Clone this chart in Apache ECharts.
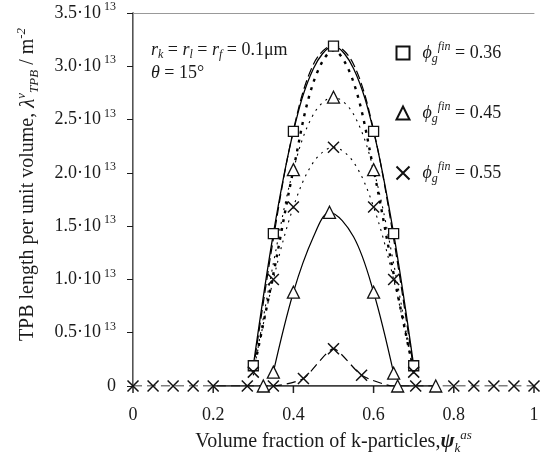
<!DOCTYPE html>
<html>
<head>
    <meta charset="utf-8">
    <title>TPB length</title>
    <script type="text/javascript" src="https://cdn.jsdelivr.net/npm/echarts@6/dist/echarts.min.js"></script>
</head>
<body style="margin:0">
    <div id="main" style="width: 544px;height:460px;"></div>
    <script type="text/javascript">
    var myChart = echarts.init(document.getElementById('main'));

    // values in units of 1e13 m^-2
    var xTicks = [0, 0.2, 0.4, 0.6, 0.8, 1];
    var xTickY = [0, 0, 0, 0, 0, 0];

    // markers
    var sqX = [0.3, 0.35, 0.4, 0.5, 0.6, 0.65, 0.7];
    var sqY = [0.19, 1.43, 2.39, 3.19, 2.39, 1.43, 0.19];
    var triX = [0.4, 0.5, 0.6, 0.35, 0.4, 0.49, 0.6, 0.65, 0.325, 0.66, 0.755];
    var triY = [2.03, 2.71, 2.03, 0.13, 0.88, 1.63, 0.88, 0.12, 0, 0, 0];
    var crX = [0.3, 0.35, 0.4, 0.5, 0.6, 0.65, 0.7,
               0, 0.05, 0.1, 0.15, 0.2, 0.285, 0.35, 0.425, 0.5, 0.57, 0.705, 0.8, 0.85, 0.9, 0.95, 1];
    var crY = [0.13, 1.0, 1.68, 2.24, 1.68, 1.0, 0.13,
               0, 0, 0, 0, 0, 0, 0, 0.07, 0.35, 0.1, 0, 0, 0, 0, 0, 0];

    // curves
    var outerX = [0.3, 0.35, 0.4, 0.45, 0.5, 0.55, 0.6, 0.65, 0.7];
    var solidOuterY = [0.19, 1.43, 2.39, 2.98, 3.19, 2.98, 2.39, 1.43, 0.19];
    var dashOuterY = [0.15, 1.38, 2.40, 3.02, 3.20, 3.02, 2.40, 1.38, 0.15];
    var heavyDotY = [0.13, 1.05, 2.03, 2.85, 3.15, 2.85, 2.03, 1.05, 0.13];
    var dotTriY = [0.10, 1.15, 2.03, 2.55, 2.71, 2.55, 2.03, 1.15, 0.10];
    var dotCrX = [0.3, 0.35, 0.4, 0.45, 0.5, 0.55, 0.6, 0.65, 0.7];
    var dotCrY = [0.13, 1.0, 1.68, 2.1, 2.24, 2.1, 1.68, 1.0, 0.13];
    var innerTriX = [0.35, 0.4, 0.45, 0.49, 0.55, 0.6, 0.65];
    var innerTriY = [0.13, 0.88, 1.40, 1.63, 1.40, 0.88, 0.12];
    var innerCrX = [0, 0.05, 0.1, 0.15, 0.2, 0.285, 0.35, 0.425, 0.5, 0.57, 0.65, 0.705, 0.8, 0.85, 0.9, 0.95, 1];
    var innerCrY = [0, 0, 0, 0, 0, 0, 0, 0.07, 0.35, 0.1, 0, 0, 0, 0, 0, 0, 0];
    var baseX = [0.2, 0.76];
    var baseY = [0, 0];

    var names = ['0.36', '0.45', '0.55'];

    function pairs(xs, ys) {
        return xs.map(function (x, i) { return [x, ys[i]]; });
    }

    var serif = '"Liberation Serif", "DejaVu Serif", serif';
    var ink = '#1a1a1a';
    var crossPath = 'path://M0,0L10,10M10,0L0,10';

    function curve(xs, ys, width, type) {
        return {
            type: 'line',
            data: pairs(xs, ys),
            showSymbol: false,
            smooth: 0.35,
            silent: true,
            animation: false,
            z: 2,
            lineStyle: { color: '#000', width: width, type: type }
        };
    }

    function legendName(v) {
        return '{f|ϕ}{sb|g}{sp|fin}{t| = ' + v + '}';
    }

    option = {
        backgroundColor: '#fff',
        animation: false,
        grid: { left: 133, right: 10, top: 13, bottom: 73 },
        legend: {
            data: names.map(legendName),
            orient: 'vertical',
            left: 389,
            top: 36,
            itemWidth: 13,
            itemHeight: 13,
            itemGap: 36,
            selectedMode: false,
            textStyle: {
                fontFamily: serif,
                color: ink,
                padding: [0, 0, 0, 8],
                rich: {
                    f: { fontSize: 18, fontStyle: 'italic', fontFamily: serif, color: ink },
                    sb: { fontSize: 12, fontStyle: 'italic', fontFamily: serif, verticalAlign: 'bottom', lineHeight: 12, color: ink },
                    sp: { fontSize: 12, fontStyle: 'italic', fontFamily: serif, verticalAlign: 'top', lineHeight: 12, color: ink },
                    t: { fontSize: 18, fontFamily: serif, color: ink, lineHeight: 24 }
                }
            }
        },
        graphic: [
            {
                type: 'text', left: 151, top: 41,
                style: {
                    text: '{i|r}{s|k}{t| = }{i|r}{s|l}{t| = }{i|r}{s|f}{t| = 0.1μm}',
                    rich: {
                        i: { fontSize: 18, fontStyle: 'italic', fontFamily: serif, fill: ink },
                        s: { fontSize: 12, fontStyle: 'italic', fontFamily: serif, verticalAlign: 'bottom', lineHeight: 10, fill: ink },
                        t: { fontSize: 18, fontFamily: serif, fill: ink, lineHeight: 22 }
                    }
                }
            },
            {
                type: 'text', left: 151, top: 64,
                style: {
                    text: '{i|θ}{t| = 15°}',
                    rich: {
                        i: { fontSize: 18, fontStyle: 'italic', fontFamily: serif, fill: ink },
                        t: { fontSize: 18, fontFamily: serif, fill: ink }
                    }
                }
            }
        ],
        xAxis: [
            {
                type: 'value',
                min: 0, max: 1, interval: 0.2,
                name: '{t|Volume fraction of k-particles,}{i|ψ}{sb|k}{sp|as}',
                nameLocation: 'middle',
                nameGap: 43,
                nameTextStyle: {
                    rich: {
                        t: { fontSize: 20, fontFamily: serif, color: ink, lineHeight: 26 },
                        i: { fontSize: 21, fontStyle: 'italic', fontWeight: 'bold', fontFamily: serif, color: ink },
                        sb: { fontSize: 13, fontStyle: 'italic', fontFamily: serif, verticalAlign: 'bottom', lineHeight: 12, color: ink },
                        sp: { fontSize: 13, fontStyle: 'italic', fontFamily: serif, verticalAlign: 'top', lineHeight: 12, color: ink }
                    }
                },
                axisLine: { show: false },
                axisTick: { show: false },
                splitLine: { show: false },
                axisLabel: {
                    margin: 20,
                    fontSize: 18,
                    fontFamily: serif,
                    color: ink,
                    formatter: function (v) { return xTicks.indexOf(v) >= 0 ? String(v) : ''; }
                }
            },
            {
                type: 'value', position: 'top', min: 0, max: 1,
                axisLine: { show: true, onZero: false, lineStyle: { color: '#999', width: 1 } },
                axisTick: { show: false }, axisLabel: { show: false }, splitLine: { show: false }
            }
        ],
        yAxis: [
            {
                type: 'value',
                min: 0, max: 3.5, interval: 0.5,
                name: '{t|TPB length per unit volume, }{i|λ}{sp|v}{sb|TPB}{t| / m}{sp|-2}',
                nameLocation: 'middle',
                nameRotate: 90,
                nameGap: 92,
                nameTextStyle: {
                    padding: [0, 0, 0, 30],
                    rich: {
                        t: { fontSize: 20, fontFamily: serif, color: ink, lineHeight: 26 },
                        i: { fontSize: 21, fontStyle: 'italic', fontFamily: serif, color: ink },
                        sb: { fontSize: 13, fontStyle: 'italic', fontFamily: serif, verticalAlign: 'bottom', lineHeight: 12, color: ink },
                        sp: { fontSize: 13, fontStyle: 'italic', fontFamily: serif, verticalAlign: 'top', lineHeight: 12, color: ink }
                    }
                },
                axisLine: { show: true, lineStyle: { color: ink, width: 1.5 } },
                axisTick: { show: true, length: 6, lineStyle: { color: ink } },
                splitLine: { show: false },
                axisLabel: {
                    margin: 17,
                    formatter: function (v) {
                        if (v === 0) return '{m|0}';
                        return '{m|' + v.toFixed(1) + '·10}{s| 13}';
                    },
                    rich: {
                        m: { fontSize: 18, fontFamily: serif, color: ink, lineHeight: 24 },
                        s: { fontSize: 12, fontFamily: serif, color: ink, verticalAlign: 'top', lineHeight: 12 }
                    }
                }
            },
            {
                type: 'value', position: 'right', min: 0, max: 3.5,
                axisLine: { show: true, lineStyle: { color: '#999', width: 1 } },
                axisTick: { show: false }, axisLabel: { show: false }, splitLine: { show: false }
            }
        ],
        series: [
            curve(outerX, solidOuterY, 1.3, 'solid'),
            curve(outerX, dashOuterY, 1.2, [9, 4]),
            curve(outerX, heavyDotY, 2.4, [3, 6]),
            curve(outerX, dotTriY, 1.1, [2, 5]),
            curve(dotCrX, dotCrY, 1.1, [2, 5]),
            curve(innerTriX, innerTriY, 1.2, 'solid'),
            Object.assign(curve(innerCrX, innerCrY, 1.2, [9, 5]), { smooth: 0.2 }),
            curve(baseX, baseY, 1.5, 'solid'),
            {
                // tick marks hanging below the zero line
                type: 'scatter',
                data: pairs(xTicks, xTickY),
                symbol: 'rect',
                symbolSize: [1.5, 7],
                symbolOffset: [0, 3.5],
                clip: false,
                silent: true,
                z: 1,
                itemStyle: { color: '#222', opacity: 1 }
            },
            {
                name: legendName(names[0]),
                type: 'scatter',
                data: pairs(sqX, sqY),
                symbol: 'rect',
                symbolSize: 10,
                z: 5,
                itemStyle: { color: '#fff', borderColor: '#111', borderWidth: 1.3, opacity: 1 }
            },
            {
                name: legendName(names[1]),
                type: 'scatter',
                data: pairs(triX, triY),
                symbol: 'triangle',
                symbolSize: 12,
                z: 5,
                itemStyle: { color: '#fff', borderColor: '#111', borderWidth: 1.3, opacity: 1 }
            },
            {
                name: legendName(names[2]),
                type: 'scatter',
                data: pairs(crX, crY),
                symbol: crossPath,
                symbolSize: 11,
                z: 5,
                itemStyle: { color: 'none', borderColor: '#111', borderWidth: 1.5, opacity: 1 }
            }
        ]
    };

    myChart.setOption(option);
    </script>
</body>
</html>
